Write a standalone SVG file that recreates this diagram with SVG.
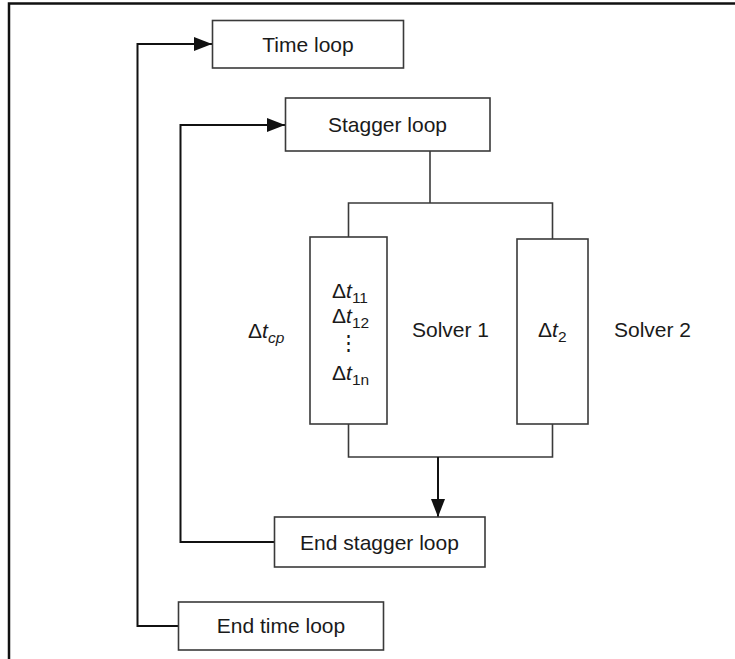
<svg xmlns="http://www.w3.org/2000/svg" width="735" height="659" viewBox="0 0 735 659">
<style>
.box{fill:#fff;stroke:#3a3a3a;stroke-width:1.6}
.t{font-family:"Liberation Sans",Arial,sans-serif;font-size:21px;fill:#1a1a1a}
.c{text-anchor:middle}
.conn{fill:none;stroke:#3a3a3a;stroke-width:1.6}
.loop{fill:none;stroke:#111;stroke-width:2}
.it{font-style:italic}
.sub{font-size:15.5px}
</style>
<defs>
<marker id="ah" markerUnits="userSpaceOnUse" markerWidth="18" markerHeight="14" refX="18" refY="7" orient="auto">
<path d="M0,0 L18,7 L0,14 Z" fill="#111"/>
</marker>
</defs>
<rect width="735" height="659" fill="#fff"/>
<path d="M9,659 V3.5 H735" fill="none" stroke="#111" stroke-width="2.5"/>
<g id="connectors">
<path class="loop" d="M178,626 H137.5 V44 H212" marker-end="url(#ah)"/>
<path class="loop" d="M274,542 H180.5 V125 H285" marker-end="url(#ah)"/>
<path class="conn" d="M430,151 V203"/>
<path class="conn" d="M348.5,237 V203 H552.5 V239"/>
<path class="conn" d="M348.5,424 V457 H552.5 V424"/>
<path class="loop" d="M438,457 V517" stroke-width="1.6" marker-end="url(#ah)"/>
</g>
<g id="time-loop">
<rect class="box" x="212.5" y="20.5" width="191" height="47.5"/>
<text class="t c" x="308" y="51.5">Time loop</text>
</g>
<g id="stagger-loop">
<rect class="box" x="285.5" y="98" width="204.5" height="53"/>
<text class="t c" x="387.5" y="132">Stagger loop</text>
</g>
<g id="solver1">
<rect class="box" x="310" y="237" width="77" height="187"/>
<text class="t" x="332" y="298">Δ<tspan class="it">t</tspan><tspan class="sub" dy="5">11</tspan></text>
<text class="t" x="332" y="323">Δ<tspan class="it">t</tspan><tspan class="sub" dy="5">12</tspan></text>
<text class="t c" x="348.5" y="350" font-family="DejaVu Sans, sans-serif" font-size="25">⋮</text>
<text class="t" x="332" y="380">Δ<tspan class="it">t</tspan><tspan class="sub" dy="5">1n</tspan></text>
<text class="t" x="248" y="338">Δ<tspan class="it">t</tspan><tspan class="sub it" dy="5">cp</tspan></text>
<text class="t" x="412" y="337">Solver 1</text>
</g>
<g id="solver2">
<rect class="box" x="517" y="239" width="71" height="185"/>
<text class="t" x="538" y="337">Δ<tspan class="it">t</tspan><tspan class="sub" dy="5">2</tspan></text>
<text class="t" x="614" y="337">Solver 2</text>
</g>
<g id="end-stagger-loop">
<rect class="box" x="274.5" y="517" width="210.5" height="50"/>
<text class="t c" x="379.5" y="549.5">End stagger loop</text>
</g>
<g id="end-time-loop">
<rect class="box" x="178.5" y="602" width="205" height="48"/>
<text class="t c" x="281" y="633">End time loop</text>
</g>
</svg>
